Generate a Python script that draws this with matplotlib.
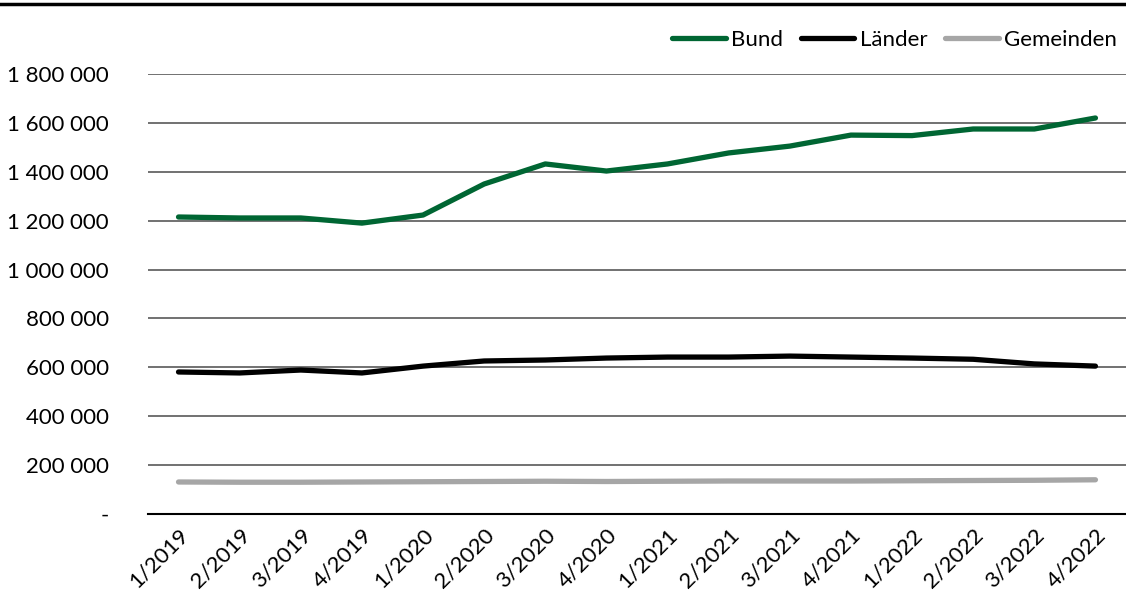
import matplotlib
matplotlib.use("Agg")
import matplotlib.pyplot as plt
from matplotlib.lines import Line2D
from matplotlib.ticker import FuncFormatter

quarters = ["1/2019", "2/2019", "3/2019", "4/2019", "1/2020", "2/2020", "3/2020", "4/2020",
            "1/2021", "2/2021", "3/2021", "4/2021", "1/2022", "2/2022", "3/2022", "4/2022"]
bund = [1215000, 1211000, 1211000, 1190000, 1223000, 1350000, 1432000, 1403000,
        1432000, 1477000, 1505000, 1550000, 1548000, 1575000, 1575000, 1620000]
laender = [581000, 577000, 589000, 577000, 605000, 626000, 630000, 638000,
           642000, 642000, 646000, 642000, 638000, 633000, 614000, 605000]
gemeinden = [131000, 130000, 130000, 131000, 132000, 133000, 134000, 133000,
             134000, 135000, 135000, 135000, 136000, 137000, 138000, 140000]
yticks = [0, 200000, 400000, 600000, 800000, 1000000, 1200000, 1400000, 1600000, 1800000]

plt.rcParams['font.family'] = ['Lato', 'DejaVu Sans']

fig = plt.figure(figsize=(11.26, 6.05), dpi=100)
ax = fig.add_axes([0.1314, 0.1504, 0.8686, 0.7273])

x = list(range(len(quarters)))
ax.plot(x, bund, color="#006633", lw=3.8, solid_capstyle="round", label="Bund")
ax.plot(x, laender, color="#000000", lw=3.8, solid_capstyle="round", label="Länder")
ax.plot(x, gemeinden, color="#A6A6A6", lw=3.8, solid_capstyle="round", label="Gemeinden")

ax.set_xlim(-0.5, len(quarters) - 0.5)
ax.set_ylim(0, 1800000)
ax.set_yticks(yticks)

def fmt(v, pos):
    if v == 0:
        return "-"
    return f"{int(v):,}".replace(",", " ")

ax.yaxis.set_major_formatter(FuncFormatter(fmt))
ax.set_xticks(x)
ax.set_xticklabels(quarters, rotation=45, ha="right", rotation_mode="anchor")
ax.tick_params(axis="both", length=0, labelsize=16, colors="#000000")
ax.tick_params(axis="y", pad=28)
ax.tick_params(axis="x", pad=8)

ax.grid(axis="y", color="#595959", lw=1.2)
ax.set_axisbelow(True)
for s in ["top", "right", "left"]:
    ax.spines[s].set_visible(False)
ax.spines["bottom"].set_color("#000000")
ax.spines["bottom"].set_linewidth(1.5)

leg = ax.legend(loc="lower right", bbox_to_anchor=(1.0, 1.035), ncol=3, frameon=False,
                fontsize=16, handlelength=2.4, handletextpad=0.25, columnspacing=0.8,
                borderaxespad=0)

fig.add_artist(Line2D([0, 1], [1 - 4 / 605, 1 - 4 / 605], color="black", lw=2.5,
                      transform=fig.transFigure))

fig.savefig("out.png", dpi=100)
